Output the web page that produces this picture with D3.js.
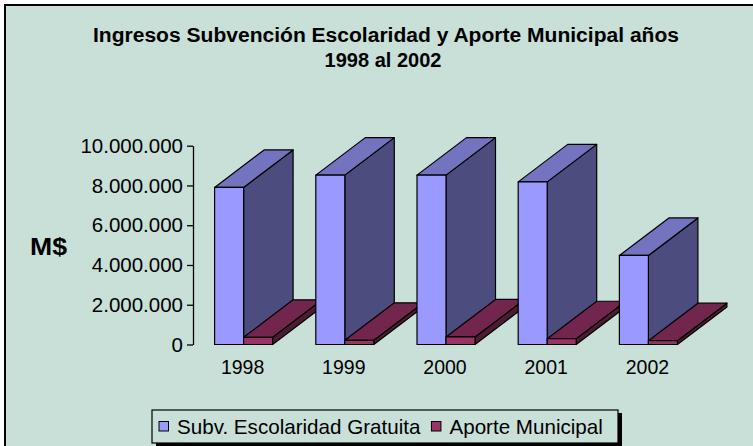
<!DOCTYPE html>
<html><head><meta charset="utf-8">
<script src="https://cdn.jsdelivr.net/npm/d3@7"></script>
<style>html,body{margin:0;padding:0;background:#fff;}svg{display:block;}</style>
</head><body>
<svg id="chart" width="753" height="446"></svg>
<script>
const categories = ["1998", "1999", "2000", "2001", "2002"];
const seriesNames = ["Subv. Escolaridad Gratuita", "Aporte Municipal"];
const subvencion = [7900000, 8520000, 8520000, 8180000, 4480000];
const aporte = [360000, 210000, 380000, 290000, 190000];
const yTicks = [0, 2000000, 4000000, 6000000, 8000000, 10000000];
const titleLines = ["Ingresos Subvención Escolaridad y Aporte Municipal años", "1998 al 2002"];
const yLabel = "M$";

const colors = {
  front: ["#9999FF", "#993366"],
  top: ["#7373BF", "#73264D"],
  side: ["#4C4C7F", "#4D1A33"]
};
const bg = "#C8E0D8";
const font = "'Liberation Sans', Arial, sans-serif";

const svg = d3.select("#chart");
svg.append("rect").attr("x", 5).attr("y", 5).attr("width", 770).attr("height", 470)
  .attr("fill", bg).attr("stroke", "#000").attr("stroke-width", 2);

// Title
const title = svg.append("g").attr("font-family", font).attr("font-weight", "bold").attr("fill", "#000");
title.append("text").attr("x", 386).attr("y", 42).attr("text-anchor", "middle")
  .attr("font-size", 20).attr("textLength", 586).attr("lengthAdjust", "spacingAndGlyphs").text(titleLines[0]);
title.append("text").attr("x", 383).attr("y", 67).attr("text-anchor", "middle")
  .attr("font-size", 20).text(titleLines[1]);

// Scales
const x = d3.scaleBand().domain(categories).range([193, 699]).paddingInner(0).paddingOuter(0);
const bw = x.bandwidth();
const x1 = d3.scaleBand().domain(seriesNames).range([bw * 0.2134, bw * 0.7866]);
const y = d3.scaleLinear().domain([0, 10000000]).range([344.5, 145.7]);
const depth = {dx: 49.5, dy: -37.5};

const loc = d3.formatLocale({decimal: ",", thousands: ".", grouping: [3], currency: ["$", ""]});
const fmt = loc.format(",d");

// Y axis
const yAxis = svg.append("g").attr("transform", "translate(193,0)")
  .call(d3.axisLeft(y).tickValues(yTicks).tickFormat(fmt).tickSize(6).tickSizeOuter(0).tickPadding(4));
yAxis.select(".domain").attr("stroke", "#000").attr("stroke-width", 1.3);
yAxis.selectAll(".tick line").attr("stroke", "#000").attr("stroke-width", 1.3);
yAxis.selectAll(".tick text").attr("font-family", font).attr("font-size", 20.5).attr("fill", "#000");

svg.append("text").attr("x", 30).attr("y", 255).attr("font-family", font).attr("font-weight", "bold")
  .attr("font-size", 24).attr("textLength", 37).attr("lengthAdjust", "spacingAndGlyphs")
  .attr("fill", "#000").text(yLabel);

// 3D bars
const bars = svg.append("g").attr("stroke", "#000").attr("stroke-width", 1.2).attr("stroke-linejoin", "round");
const seriesData = [subvencion, aporte];
categories.forEach((c, i) => {
  seriesNames.forEach((s, k) => {
    const v = seriesData[k][i];
    const x0 = x(c) + x1(s), x2 = x0 + x1.bandwidth();
    const yt = y(v), yb = y(0);
    const {dx, dy} = depth;
    const pts = a => a.map(p => p.join(",")).join(" ");
    bars.append("polygon").attr("fill", colors.side[k])
      .attr("points", pts([[x2, yt], [x2 + dx, yt + dy], [x2 + dx, yb + dy], [x2, yb]]));
    bars.append("polygon").attr("fill", colors.top[k])
      .attr("points", pts([[x0, yt], [x2, yt], [x2 + dx, yt + dy], [x0 + dx, yt + dy]]));
    bars.append("rect").attr("fill", colors.front[k])
      .attr("x", x0).attr("y", yt).attr("width", x2 - x0).attr("height", yb - yt);
  });
});

// Category labels
svg.append("g").selectAll("text").data(categories).join("text")
  .attr("x", d => x(d) + bw / 2 - 1).attr("y", 374).attr("text-anchor", "middle")
  .attr("font-family", font).attr("font-size", 19.5).attr("fill", "#000").text(d => d);

// Legend
const lg = svg.append("g");
lg.append("rect").attr("x", 156).attr("y", 413).attr("width", 466).attr("height", 33).attr("fill", "#000");
lg.append("rect").attr("x", 152).attr("y", 410).attr("width", 466).attr("height", 33)
  .attr("fill", bg).attr("stroke", "#000").attr("stroke-width", 1.2);
let lx = 159;
seriesNames.forEach((s, k) => {
  lg.append("rect").attr("x", lx).attr("y", 421.5).attr("width", 9.5).attr("height", 9.5)
    .attr("fill", colors.front[k]).attr("stroke", "#000").attr("stroke-width", 1);
  const t = lg.append("text").attr("x", lx + 18).attr("y", 434).attr("font-family", font)
    .attr("font-size", 20.6).attr("fill", "#000").text(s);
  lx = lx + 18 + t.node().getComputedTextLength() + 11;
});
</script>
</body></html>
